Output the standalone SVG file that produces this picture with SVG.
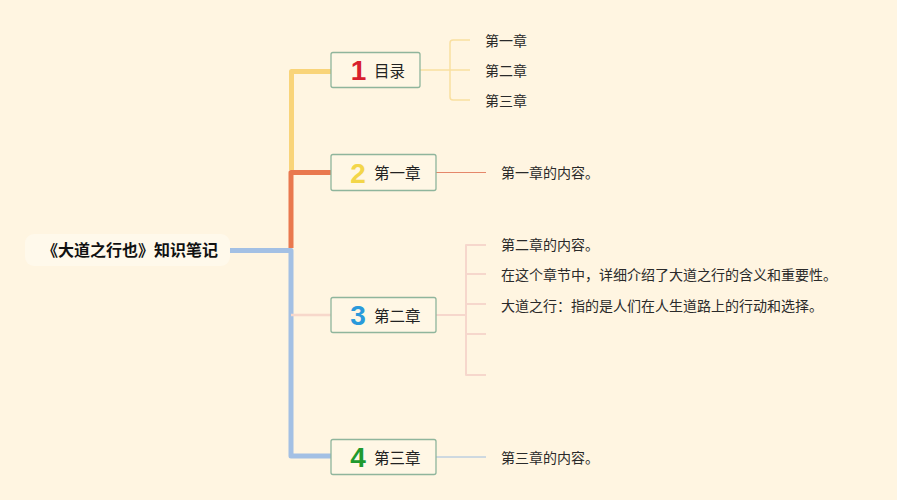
<svg xmlns="http://www.w3.org/2000/svg" width="897" height="500" viewBox="0 0 897 500">
<style>
text{font-family:"Liberation Sans","Noto Sans CJK SC",sans-serif;dominant-baseline:central}
.root{font-size:16px;font-weight:bold;fill:#111}
.lbl{font-size:15.5px;fill:#222}
.sub{font-size:14px;fill:#2a2a2a}
.num{font-size:28px;font-weight:bold;text-anchor:middle}
.c1{fill:#D8202D}.c2{fill:#F3D64A}.c3{fill:#2A9ADB}.c4{fill:#1F9A2F}
.box{fill:#FFF7E5;stroke:#8FB59C;stroke-width:1.3}
.trunk{fill:none;stroke-width:5;stroke-linejoin:round}
.thin{fill:none;stroke-linejoin:round}
</style>
<rect x="0" y="0" width="897" height="500" fill="#FFF5E1"/>
<g id="connectors">
  <path class="trunk" stroke="#F9D479" d="M331 71.5 H291.5 V170"/>
  <path class="trunk" stroke="#E9784E" d="M331 172.5 H291 V248"/>
  <path class="trunk" stroke="#A3C0E4" stroke-width="4" d="M230 250.5 H291 V456 H331"/>
  <path class="thin" stroke="#F7D8CB" stroke-width="2.5" d="M291 315 H331"/>
  <path class="thin" stroke="#F9DFA0" stroke-width="1.5" d="M420 70 H450 M470 40 H453 Q450 40 450 43 V97 Q450 100 453 100 H470 M450 70 H470"/>
  <path class="thin" stroke="#E5876A" stroke-width="1" d="M436 172.5 H486"/>
  <path class="thin" stroke="#F6D7CC" stroke-width="2" d="M436 315 H466 M486 245 H466 V375 H486 M466 274 H486 M466 304 H486 M466 334 H486"/>
  <path class="thin" stroke="#9DBCDF" stroke-width="1" d="M436 457 H486"/>
</g>
<g id="root">
  <rect x="25" y="234" width="205" height="32" rx="9" fill="#FFF9EB"/>
  <text class="root" x="130" y="250.5" text-anchor="middle">《大道之行也》知识笔记</text>
</g>
<g id="n1">
  <rect class="box" x="331" y="52.5" width="89" height="35" rx="2"/>
  <text class="num c1" x="358.5" y="70">1</text>
  <text class="lbl" x="374" y="71">目录</text>
</g>
<g id="n2">
  <rect class="box" x="331" y="154.5" width="105" height="36" rx="2"/>
  <text class="num c2" x="358" y="173">2</text>
  <text class="lbl" x="374" y="173">第一章</text>
</g>
<g id="n3">
  <rect class="box" x="331" y="297.5" width="105" height="35" rx="2"/>
  <text class="num c3" x="358" y="315">3</text>
  <text class="lbl" x="374" y="316">第二章</text>
</g>
<g id="n4">
  <rect class="box" x="331" y="439.5" width="105" height="35" rx="2"/>
  <text class="num c4" x="358" y="457">4</text>
  <text class="lbl" x="374" y="458">第三章</text>
</g>
<g id="n1-children">
  <text class="sub" x="485" y="41">第一章</text>
  <text class="sub" x="485" y="71">第二章</text>
  <text class="sub" x="485" y="101">第三章</text>
</g>
<g id="n2-children">
  <text class="sub" x="501" y="173">第一章的内容。</text>
</g>
<g id="n3-children">
  <text class="sub" x="501" y="245">第二章的内容。</text>
  <text class="sub" x="501" y="275">在这个章节中，详细介绍了大道之行的含义和重要性。</text>
  <text class="sub" x="501" y="306">大道之行：指的是人们在人生道路上的行动和选择。</text>
</g>
<g id="n4-children">
  <text class="sub" x="501" y="458">第三章的内容。</text>
</g>
</svg>
